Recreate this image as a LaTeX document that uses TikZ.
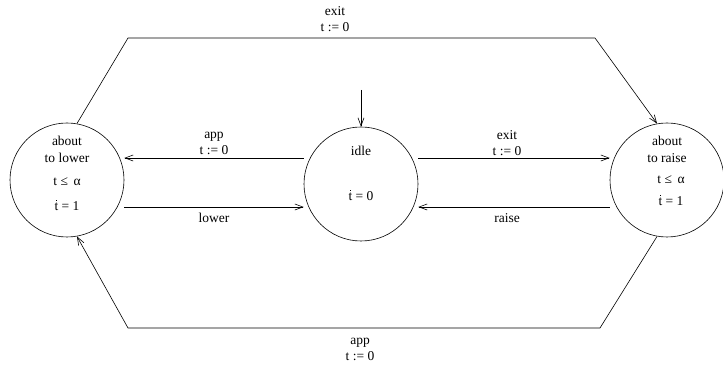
\documentclass[tikz,border=0pt]{standalone}
\usepackage{fontspec}
\setmainfont{Liberation Serif}
\usetikzlibrary{arrows.meta}
\newcommand\tdotted{\ooalign{t\cr\hidewidth\raisebox{0.7em}{\rule{1.3pt}{1.3pt}}\hidewidth\cr}}
\begin{document}
\begin{tikzpicture}[x=1pt,y=1pt,
  state/.style={circle,draw,line width=0.6pt,minimum size=114pt,inner sep=0pt},
  lbl/.style={font=\fontsize{13.5}{16}\selectfont,inner sep=0pt,align=center},
  conn/.style={line width=0.6pt,-{Straight Barb[length=8pt,width=6pt]}}]
\useasboundingbox (0,0) rectangle (723,371);
\node[state] (L) at (67,191) {};
\node[state] (I) at (361,187) {};
\node[state] (R) at (667,191) {};
% circle texts
\node[lbl] at (67,230) {about};
\node[lbl] at (67,213) {to lower};
\node[lbl] at (67,189) {t ≤ \,α};
\node[lbl] at (67,165) {\tdotted{} = 1};
\node[lbl] at (361,220) {idle};
\node[lbl] at (361,175) {\tdotted{} = 0};
\node[lbl] at (667,230) {about};
\node[lbl] at (667,213) {to raise};
\node[lbl] at (671,191) {t ≤ \,α};
\node[lbl] at (671,170) {\tdotted{} = 1};
% inner arrows
\coordinate (i1) at (361,281);
\draw[conn] (i1) -- (I.north);
\draw[conn] (I.west |- 0,213) -- (L.east |- 0,213);
\draw[conn] (L.east |- 0,164) -- (I.west |- 0,164);
\draw[conn] (I.east |- 0,213) -- (R.west |- 0,213);
\draw[conn] (R.west |- 0,164) -- (I.east |- 0,164);
\node[lbl] at (214,228) {app\\t := 0};
\node[lbl] at (214,153) {lower};
\node[lbl] at (507,228) {exit\\t := 0};
\node[lbl] at (507,153) {raise};
% outer paths
\coordinate (t1) at (128,333);
\coordinate (t2) at (595,333);
\coordinate (b1) at (600,43);
\coordinate (b2) at (128,43);
\draw[conn] (L.80) -- (t1) -- (t2) -- (R.100);
\draw[conn] (R.-100) -- (b1) -- (b2) -- (L.-80);
\node[lbl] at (335,352) {exit\\t := 0};
\node[lbl] at (360,22) {app\\t := 0};
\end{tikzpicture}
\end{document}
